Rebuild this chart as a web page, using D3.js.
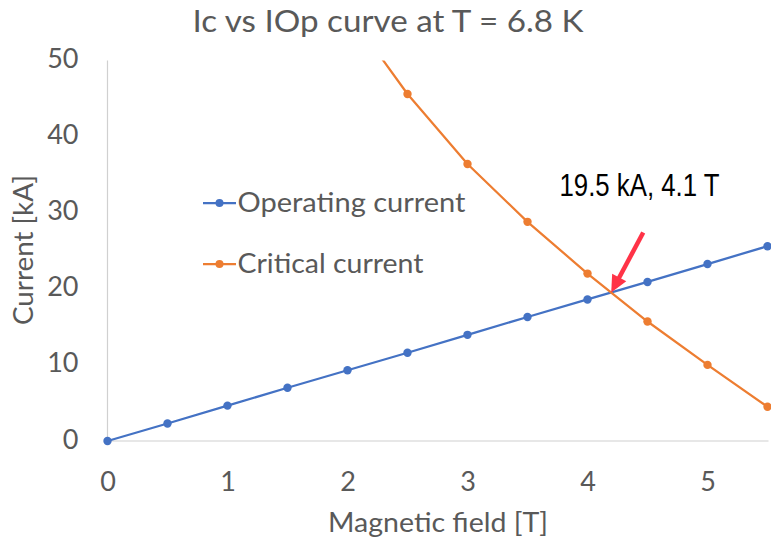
<!DOCTYPE html>
<html>
<head>
<meta charset="utf-8">
<script src="https://cdn.jsdelivr.net/npm/d3@7"></script>
<style>
  html, body { margin: 0; padding: 0; background: #fff; }
  svg { display: block; }
</style>
</head>
<body>
<svg id="chart" width="771" height="540"></svg>
<script>
// Magnetic field values [T]
const fieldOp = [0, 0.5, 1, 1.5, 2, 2.5, 3, 3.5, 4, 4.5, 5, 5.5];
// Operating current [kA]
const operatingCurrent = [0, 2.3, 4.65, 7.0, 9.3, 11.6, 13.95, 16.3, 18.6, 20.9, 23.25, 25.6];
// Critical current [kA] at T = 6.8 K
const fieldIc = [2, 2.5, 3, 3.5, 4, 4.5, 5, 5.5];
const criticalCurrent = [56.5, 45.6, 36.4, 28.8, 22.0, 15.7, 10.0, 4.5];

const xTicks = [0, 1, 2, 3, 4, 5];
const yTicks = [0, 10, 20, 30, 40, 50];
const seriesNames = ["Operating current", "Critical current"];
const annotationText = "19.5 kA, 4.1 T";

const colors = ["#4472C4", "#ED7D31"];
const textGray = "#595959";
const uiFont = "Lato, 'Open Sans', sans-serif";

const svg = d3.select("#chart");

const x = d3.scaleLinear().domain([0, 5.5]).range([107.5, 767.5]);
const y = d3.scaleLinear().domain([0, 50]).range([441, 60.5]);

// Title
svg.append("text")
  .attr("x", 388).attr("y", 32)
  .attr("text-anchor", "middle")
  .attr("font-family", uiFont).attr("font-size", 30.5)
  .attr("fill", textGray)
  .attr("textLength", 391).attr("lengthAdjust", "spacingAndGlyphs")
  .text("Ic vs IOp curve at T = 6.8 K");

// Axes
const xAxis = d3.axisBottom(x).tickValues(xTicks).tickSize(0).tickPadding(0).tickFormat(d3.format("d"));
const yAxis = d3.axisLeft(y).tickValues(yTicks).tickSize(0).tickPadding(0).tickFormat(d3.format("d"));

const gx = svg.append("g").attr("transform", `translate(0,${y(0)})`).call(xAxis);
gx.select(".domain").attr("stroke", "#d0d0d0").attr("stroke-width", 1.2)
  .attr("d", `M${x(0)},0H${x.range()[1] + 1}`);
gx.selectAll(".tick text")
  .attr("font-family", uiFont).attr("font-size", 27).attr("fill", textGray)
  .attr("y", 50).attr("dy", null);

const gy = svg.append("g").attr("transform", `translate(${x(0)},0)`).call(yAxis);
gy.select(".domain").attr("stroke", "#d0d0d0").attr("stroke-width", 1.2)
  .attr("d", `M0,${y(50)}V${y(0)}`);
gy.selectAll(".tick text")
  .attr("font-family", uiFont).attr("font-size", 27).attr("fill", textGray)
  .attr("x", -29).attr("dy", 7);

// Axis titles
svg.append("text")
  .attr("x", 438).attr("y", 532)
  .attr("text-anchor", "middle")
  .attr("font-family", uiFont).attr("font-size", 27).attr("fill", textGray)
  .attr("textLength", 220).attr("lengthAdjust", "spacingAndGlyphs")
  .text("Magnetic field [T]");

svg.append("text")
  .attr("transform", "translate(33,250) rotate(-90)")
  .attr("text-anchor", "middle")
  .attr("font-family", uiFont).attr("font-size", 27).attr("fill", textGray)
  .attr("textLength", 150).attr("lengthAdjust", "spacingAndGlyphs")
  .text("Current [kA]");

// Plot area clip
svg.append("defs").append("clipPath").attr("id", "plotClip")
  .append("rect")
  .attr("x", x(0) - 8).attr("y", y(50))
  .attr("width", x(5.5) - x(0) + 16).attr("height", y(0) - y(50) + 8);

const plot = svg.append("g").attr("clip-path", "url(#plotClip)");

const series = [
  { name: seriesNames[0], xs: fieldOp, ys: operatingCurrent, color: colors[0] },
  { name: seriesNames[1], xs: fieldIc, ys: criticalCurrent, color: colors[1] }
];

const line = d3.line().x(d => x(d[0])).y(d => y(d[1]));

series.forEach(s => {
  const pts = s.xs.map((v, i) => [v, s.ys[i]]);
  plot.append("path")
    .datum(pts)
    .attr("fill", "none")
    .attr("stroke", s.color)
    .attr("stroke-width", 2.25)
    .attr("stroke-linejoin", "round")
    .attr("d", line);
  plot.selectAll(null)
    .data(pts.filter(p => p[1] <= 50))
    .enter().append("circle")
    .attr("cx", d => x(d[0])).attr("cy", d => y(d[1]))
    .attr("r", 4.2)
    .attr("fill", s.color);
});

// Legend
const legend = svg.append("g");
const legendRows = [
  { name: seriesNames[0], color: colors[0], lineY: 203, textY: 212, len: 228 },
  { name: seriesNames[1], color: colors[1], lineY: 264, textY: 273, len: 186 }
];
legendRows.forEach(r => {
  legend.append("line")
    .attr("x1", 203).attr("x2", 236).attr("y1", r.lineY).attr("y2", r.lineY)
    .attr("stroke", r.color).attr("stroke-width", 2.25);
  legend.append("circle")
    .attr("cx", 219.5).attr("cy", r.lineY).attr("r", 4).attr("fill", r.color);
  legend.append("text")
    .attr("x", 237.5).attr("y", r.textY)
    .attr("font-family", uiFont).attr("font-size", 27).attr("fill", textGray)
    .attr("textLength", r.len).attr("lengthAdjust", "spacingAndGlyphs")
    .text(r.name);
});

// Crossing point of the two curves, found from the data segments
function crossing() {
  const opAt = b => {
    for (let i = 0; i < fieldOp.length - 1; i++) {
      if (b >= fieldOp[i] && b <= fieldOp[i + 1]) {
        const t = (b - fieldOp[i]) / (fieldOp[i + 1] - fieldOp[i]);
        return operatingCurrent[i] + t * (operatingCurrent[i + 1] - operatingCurrent[i]);
      }
    }
    return NaN;
  };
  for (let i = 0; i < fieldIc.length - 1; i++) {
    const b0 = fieldIc[i], b1 = fieldIc[i + 1];
    const d0 = criticalCurrent[i] - opAt(b0);
    const d1 = criticalCurrent[i + 1] - opAt(b1);
    if (d0 >= 0 && d1 <= 0) {
      const t = d0 / (d0 - d1);
      const b = b0 + t * (b1 - b0);
      return [b, opAt(b)];
    }
  }
  return [fieldIc[0], criticalCurrent[0]];
}
const cross = crossing();
const tipX = x(cross[0]), tipY = y(cross[1]);

// Annotation arrow pointing at the crossing
const startX = tipX + 32, startY = tipY - 60;
const ang = Math.atan2(tipY - startY, tipX - startX);
const headLen = 17, headHalf = 8;
const baseX = tipX - headLen * Math.cos(ang), baseY = tipY - headLen * Math.sin(ang);
const red = "#FF3347";
svg.append("line")
  .attr("x1", startX).attr("y1", startY)
  .attr("x2", baseX + 2 * Math.cos(ang)).attr("y2", baseY + 2 * Math.sin(ang))
  .attr("stroke", red).attr("stroke-width", 4.5);
svg.append("path")
  .attr("d", `M${tipX},${tipY}L${baseX - headHalf * Math.sin(ang)},${baseY + headHalf * Math.cos(ang)}L${baseX + headHalf * Math.sin(ang)},${baseY - headHalf * Math.cos(ang)}Z`)
  .attr("fill", red);

svg.append("text")
  .attr("x", 639.5).attr("y", 196)
  .attr("text-anchor", "middle")
  .attr("font-family", "'Liberation Sans Narrow', 'Liberation Sans', Arial, sans-serif")
  .attr("font-size", 32).attr("fill", "#000")
  .attr("textLength", 160).attr("lengthAdjust", "spacingAndGlyphs")
  .text(annotationText);
</script>
</body>
</html>
